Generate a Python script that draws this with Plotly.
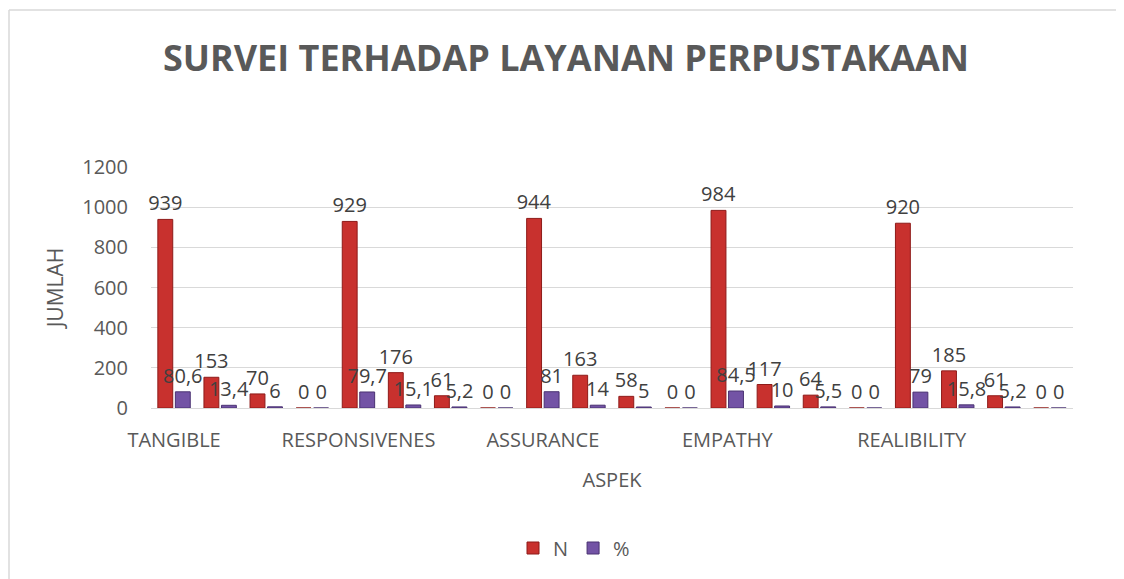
import plotly.graph_objects as go

aspects = ["TANGIBLE", "RESPONSIVENES", "ASSURANCE", "EMPATHY", "REALIBILITY"]
levels = ["SANGAT PUAS", "PUAS", "TIDAK PUAS", "SANGAT TIDAK PUAS"]

n_values = [
    [939, 153, 70, 0],
    [929, 176, 61, 0],
    [944, 163, 58, 0],
    [984, 117, 64, 0],
    [920, 185, 61, 0],
]
pct_values = [
    [80.6, 13.4, 6, 0],
    [79.7, 15.1, 5.2, 0],
    [81, 14, 5, 0],
    [84.5, 10, 5.5, 0],
    [79, 15.8, 5.2, 0],
]

y_ticks = [0, 200, 400, 600, 800, 1000, 1200]

cats = [f"{a} - {l}" for a in aspects for l in levels]
n_flat = [v for row in n_values for v in row]
p_flat = [v for row in pct_values for v in row]


def fmt(v):
    s = f"{v:g}"
    return s.replace(".", ",")


font_main = "Open Sans"
label_font = dict(family=font_main, size=20, color="#404040")

fig = go.Figure()
fig.add_trace(go.Bar(
    name="N", x=cats, y=n_flat,
    marker=dict(color="#C8312E", line=dict(color="#8E1B19", width=1)),
    text=[fmt(v) for v in n_flat], textposition="outside",
    textfont=label_font, cliponaxis=False, textangle=0,
    constraintext="none",
))
fig.add_trace(go.Bar(
    name="%", x=cats, y=p_flat,
    marker=dict(color="#7353A5", line=dict(color="#4A3272", width=1)),
    text=[fmt(v) for v in p_flat], textposition="outside",
    textfont=label_font, cliponaxis=False, textangle=0,
    constraintext="none",
))

# page body adds an 8px margin; work in reference-pixel coordinates
OX, OY = 8, 8
W, H = 1124 - OX, 579 - OY
# plot area in reference pixels: x 151..1073, y 167..408
L, R, T, B = 151 - OX, 1073 - OX, 167 - OY, 408 - OY
pw, ph = R - L, B - T


def px_x(x):
    return (x - OX - L) / pw


def px_y(y):
    return (B - (y - OY)) / ph


fig.update_layout(
    width=W, height=H,
    margin=dict(l=L, r=W - R, t=T, b=H - B, autoexpand=False),
    paper_bgcolor="white", plot_bgcolor="white",
    barmode="group", bargap=0.24, bargroupgap=0.15,
    title=dict(
        text="SURVEI TERHADAP LAYANAN PERPUSTAKAAN",
        x=0.5, xanchor="center", y=1 - (58 - OY) / H, yanchor="middle",
        font=dict(family=font_main, size=36, color="#595959", weight="bold"),
    ),
    xaxis=dict(
        type="category", categoryorder="array", categoryarray=cats,
        tickvals=[cats[i * 4] for i in range(len(aspects))],
        ticktext=aspects,
        tickfont=dict(family=font_main, size=20, color="#595959"),
        showgrid=False, showline=True, linecolor="#d9d9d9", linewidth=1,
        ticks="", ticklabelstandoff=14,
        title=dict(text="ASPEK", standoff=20,
                   font=dict(family=font_main, size=20, color="#595959")),
        range=[-0.5, len(cats) - 0.5],
    ),
    yaxis=dict(
        range=[0, 1200], tickvals=y_ticks,
        tickfont=dict(family=font_main, size=20, color="#595959"),
        showgrid=True, gridcolor="#d9d9d9", gridwidth=1,
        zeroline=False, showline=False, ticks="", ticklabelstandoff=22,
        title=dict(text="JUMLAH", standoff=12,
                   font=dict(family=font_main, size=21, color="#595959")),
    ),
    legend=dict(
        orientation="h", x=px_x(574), xanchor="center",
        y=px_y(548), yanchor="middle",
        font=dict(family=font_main, size=20, color="#595959"),
        traceorder="normal", itemwidth=30,
    ),
    showlegend=True,
    shapes=[
        dict(type="line", xref="paper", yref="paper",
             x0=px_x(9), x1=px_x(1140), y0=px_y(10), y1=px_y(10),
             line=dict(color="#d9d9d9", width=1.5)),
        dict(type="line", xref="paper", yref="paper",
             x0=px_x(9), x1=px_x(9), y0=px_y(10), y1=px_y(600),
             line=dict(color="#d9d9d9", width=1.5)),
    ],
)

fig.write_html("out.html")
